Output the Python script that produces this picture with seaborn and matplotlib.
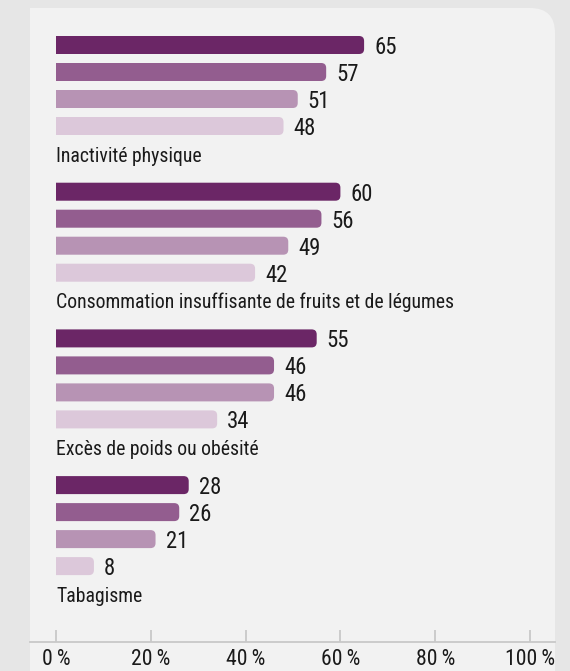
import matplotlib
matplotlib.use("Agg")
import matplotlib.pyplot as plt
from matplotlib import font_manager
from matplotlib.patches import FancyBboxPatch, Rectangle
import seaborn as sns
import pandas as pd

# ---- data ----
categories = [
    "Inactivité physique",
    "Consommation insuffisante de fruits et de légumes",
    "Excès de poids ou obésité",
    "Tabagisme",
]
series = ["s1", "s2", "s3", "s4"]
values = [
    [65, 57, 51, 48],
    [60, 56, 49, 42],
    [55, 46, 46, 34],
    [28, 26, 21, 8],
]
xticks = [0, 20, 40, 60, 80, 100]
xtick_labels = ["0\u2009%", "20\u2009%", "40\u2009%", "60\u2009%", "80\u2009%", "100\u2009%"]
colors = ["#6b2666", "#935d8f", "#b793b4", "#dcc8da"]

# ---- fonts ----
sns.set_theme(style="white")
names = {f.name for f in font_manager.fontManager.ttflist}
stretch = "normal"
if "Roboto Condensed" in names:
    fam = ["Roboto Condensed", "DejaVu Sans"]
elif "Liberation Sans Narrow" in names:
    fam = ["Liberation Sans Narrow", "DejaVu Sans"]
else:
    fam = ["DejaVu Sans"]
    stretch = "condensed"
plt.rcParams["font.family"] = fam
plt.rcParams["font.stretch"] = stretch

W, H = 570, 671
fig = plt.figure(figsize=(W / 100, H / 100), dpi=100)
fig.patch.set_facecolor("#e6e6e6")

# panel background (top-right rounded)
px0, px1, ptop = 30, 555, 8
rad = 25
fig.patches.append(FancyBboxPatch((px0 / W, -0.1), (px1 - px0) / W, (H - ptop) / H + 0.1,
                                  boxstyle=f"round,pad=0,rounding_size={rad / W}",
                                  mutation_aspect=W / H, transform=fig.transFigure,
                                  facecolor="#f2f2f2", edgecolor="none", zorder=-10))
fig.patches.append(Rectangle((px0 / W, -0.1), (px1 - px0) / 2 / W, (H - ptop) / H + 0.1,
                             transform=fig.transFigure, facecolor="#f2f2f2",
                             edgecolor="none", zorder=-10))

# axes geometry in pixels
ax_bottom_px = 642
ax = fig.add_axes([px0 / W, (H - ax_bottom_px) / H, (px1 - px0) / W, (ax_bottom_px - ptop) / H])
ax.set_facecolor("none")

# layout: unit = 27 px per bar row
row_px = 27.0
first_px = 45.0
group_step = 146.7 / row_px
label_off = 109.0 / row_px

rows = []
for gi, cat in enumerate(categories):
    for si, s in enumerate(series):
        rows.append({"cat": cat, "series": s, "value": values[gi][si],
                     "ypos": gi * group_step + si})
df = pd.DataFrame(rows)

sns.barplot(data=df, x="value", y="ypos", hue="series", palette=colors,
            orient="h", native_scale=True, dodge=False, width=18 / row_px,
            legend=False, ax=ax, saturation=1)

x0_px, x100_px = 56, 530
ppu = (x100_px - x0_px) / 100.0
xlim = (-(x0_px - px0) / ppu, 100 + (px1 - x100_px) / ppu)
ylim = ((ax_bottom_px - first_px) / row_px, (ptop - first_px) / row_px)
ax.set_xlim(*xlim)
ax.set_ylim(*ylim)

# rounded right ends: rounded box extended to the left, clipped at the bar start
r_x = 5 / ppu
aspect = (1 / row_px) / (1 / ppu)
for p in list(ax.patches):
    x, y, w, h = p.get_x(), p.get_y(), p.get_width(), p.get_height()
    fc = p.get_facecolor()
    p.set_visible(False)
    fb = FancyBboxPatch((x - 3 * r_x, y), w + 3 * r_x, h,
                        boxstyle=f"round,pad=0,rounding_size={r_x}",
                        mutation_aspect=aspect, facecolor=fc, edgecolor="none",
                        zorder=p.get_zorder())
    ax.add_patch(fb)
    clip = Rectangle((x, y - h), w + 3 * r_x, 3 * h, transform=ax.transData)
    fb.set_clip_path(clip)

txt_color = "#1a1a1a"
# size the font so the longest label spans about 402 px as in the reference
fs = 14.0
probe = fig.text(0, 0, categories[1], fontsize=fs)
fig.canvas.draw()
wpx = probe.get_window_extent().width
probe.remove()
fs = fs * 402.0 / wpx
fs_num = fs * 1.15
fs_tick = fs * 1.1

for _, r in df.iterrows():
    ax.text(r["value"] + 10 / ppu, r["ypos"], str(r["value"]), va="center_baseline",
            ha="left", fontsize=fs_num, color=txt_color)
for gi, cat in enumerate(categories):
    ax.text(0, gi * group_step + label_off, cat, va="center_baseline", ha="left",
            fontsize=fs, color=txt_color)

ax.set_xticks(xticks)
ax.set_xticklabels(xtick_labels, fontsize=fs_tick, color=txt_color)
ax.set_yticks([])
ax.set_xlabel("")
ax.set_ylabel("")
for s in ["top", "left", "right"]:
    ax.spines[s].set_visible(False)
ax.spines["bottom"].set_color("#c8c8c8")
ax.spines["bottom"].set_linewidth(1.3)
ax.tick_params(axis="x", direction="in", length=9, width=1.3, color="#c8c8c8",
               pad=5, bottom=True)

fig.savefig("out.png", dpi=100, facecolor=fig.get_facecolor())
